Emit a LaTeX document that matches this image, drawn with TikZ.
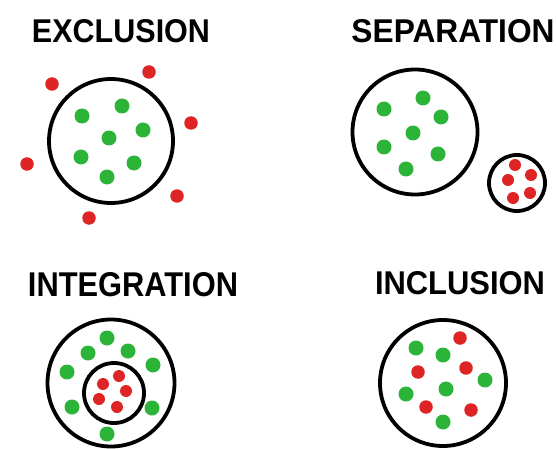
\documentclass[tikz,border=0pt]{standalone}
\usepackage{fontspec}
\setmainfont{Liberation Sans}
\usepackage{graphicx}
\definecolor{dotgreen}{RGB}{44,180,56}
\definecolor{dotred}{RGB}{222,36,36}
\begin{document}
\begin{tikzpicture}[x=1pt,y=-1pt,
  grn/.style={circle,fill=dotgreen,minimum size=15pt,inner sep=0pt},
  rd/.style={circle,fill=dotred,minimum size=13.5pt,inner sep=0pt},
  rds/.style={circle,fill=dotred,minimum size=12pt,inner sep=0pt},
  ring/.style={circle,draw=black,line width=3.8pt,inner sep=0pt},
  ttl/.style={inner sep=0pt,anchor=center}]
\useasboundingbox[fill=white] (0,0) rectangle (556,449);
% titles
\node[ttl] (t1) at (121,31.5) {\resizebox{178pt}{23pt}{\bfseries EXCLUSION}};
\node[ttl] (t2) at (453,31.5) {\resizebox{203pt}{23pt}{\bfseries SEPARATION}};
\node[ttl] (t3) at (133,285) {\resizebox{210pt}{24pt}{\bfseries INTEGRATION}};
\node[ttl] (t4) at (460,283.5) {\resizebox{170pt}{23pt}{\bfseries INCLUSION}};
% EXCLUSION
\node[ring,minimum size=124pt] (c1) at (111,141) {};
\foreach \p [count=\i] in {(122,106),(82,116),(143,130),(109,138),(81,157),(134,163),(107,177)}
  \node[grn] (eg\i) at \p {};
\foreach \p [count=\i] in {(52,84),(149,72),(191,123),(27,164),(177,196),(89,218)}
  \node[rd] (er\i) at \p {};
% SEPARATION
\node[ring,minimum size=125pt] (c2) at (415,132) {};
\foreach \p [count=\i] in {(423,98),(384,109),(441,117),(413,133),(384,147),(438,154),(406,169)}
  \node[grn] (sg\i) at \p {};
\node[ring,minimum size=56pt] (c3) at (517,183) {};
\foreach \p [count=\i] in {(515,165),(531,175),(508,180),(530,193),(513,198)}
  \node[rds] (sr\i) at \p {};
% INTEGRATION
\node[ring,minimum size=127pt] (c4) at (111,383) {};
\node[ring,minimum size=60pt] (c5) at (114,393) {};
\foreach \p [count=\i] in {(107,338),(88,353),(128,351),(153,365),(67,372),(72,407),(152,408),(107,434)}
  \node[grn] (ig\i) at \p {};
\foreach \p [count=\i] in {(119,376),(103,384),(126,391),(99,399),(117,407)}
  \node[rds] (ir\i) at \p {};
% INCLUSION
\node[ring,minimum size=126pt] (c6) at (443,383) {};
\foreach \p [count=\i] in {(416,348),(443,355),(485,380),(446,389),(406,394),(443,422)}
  \node[grn] (ng\i) at \p {};
\foreach \p [count=\i] in {(460,338),(418,372),(466,368),(426,407),(471,410)}
  \node[rd] (nr\i) at \p {};
\end{tikzpicture}
\end{document}
